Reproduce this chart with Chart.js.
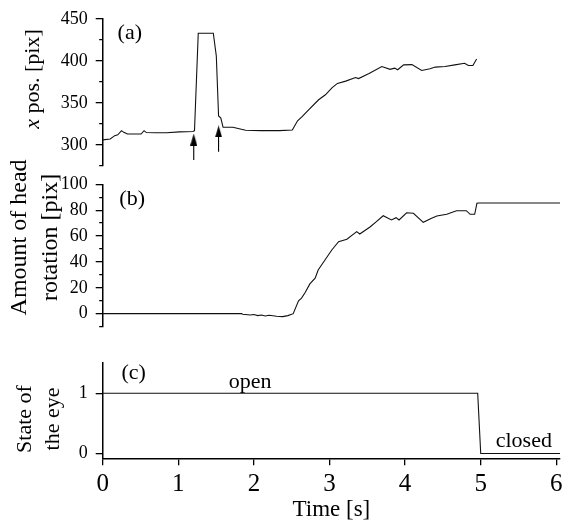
<!DOCTYPE html>
<html><head><meta charset="utf-8">
<script src="https://cdn.jsdelivr.net/npm/chart.js@4.4.1/dist/chart.umd.min.js"></script>
<style>
html,body{margin:0;padding:0;background:#fff;}
#wrap{position:relative;width:564px;height:524px;overflow:hidden;background:#fff;}
canvas{position:absolute;left:0;}
</style></head><body>
<div id="wrap">
<canvas id="ca" width="564" height="172" style="top:0px"></canvas>
<canvas id="cb" width="564" height="182" style="top:150px"></canvas>
<canvas id="cc" width="564" height="192" style="top:332px"></canvas>
</div>
<script>
// ---- data: panel (a) x position [pix] ----
const timeA = [0.00,0.10,0.16,0.20,0.25,0.28,0.33,0.45,0.51,0.55,0.58,0.70,0.85,1.02,1.20,1.22,1.27,1.47,1.51,1.54,1.57,1.60,1.73,1.80,1.90,2.10,2.35,2.52,2.59,2.65,2.74,2.87,2.96,3.05,3.12,3.23,3.36,3.40,3.54,3.71,3.82,3.88,3.92,4.00,4.11,4.24,4.35,4.42,4.55,4.68,4.81,4.86,4.92,4.97];
const posA  = [306,307,311,312,317,315,313,313,313,317,314.7,314.5,314.5,315.5,316,317,433,433,406,334.5,332,321,321,319.5,317.5,317,317,317.8,328.7,333.7,342,353.8,359.7,368.2,373.3,376,380.2,379,385,393.4,390,391.5,389.5,395.3,395.7,388.7,390.7,392.7,393.4,395.3,397.3,394.6,394.6,402.3];
// ---- data: panel (b) amount of head rotation [pix] ----
const timeB = [0,1.84,1.85,1.95,2.00,2.05,2.10,2.15,2.20,2.30,2.38,2.45,2.52,2.59,2.63,2.68,2.74,2.81,2.85,2.94,3.03,3.12,3.23,3.36,3.40,3.54,3.62,3.71,3.82,3.88,3.92,4.02,4.11,4.24,4.35,4.42,4.55,4.68,4.81,4.86,4.92,4.95,4.97,6.05];
const rotB  = [0,0,-0.5,-1,-0.7,-1.5,-1,-1.8,-1.2,-2,-2.3,-1.5,0,10,12,16.5,23,27.4,33.8,41.5,49.2,55.6,57.5,63.4,61.6,67.2,71.1,75.7,72.4,74.2,72.4,78,77.6,70.6,73.7,75.5,76.8,79.6,79.6,76.8,76.8,85.3,85.5,85.5];
// ---- data: panel (c) state of the eye ----
const timeC = [0,4.96,5.00,6.05];
const eyeC  = [1,1,0,0];
// ---- arrows in panel (a) ----
const arrowTime = [1.21, 1.54];
const arrowTail = [282, 292];
const arrowHead = [306.4, 316];
// ---- tick labels ----
const xTicks = [0,1,2,3,4,5,6];
const yTicksA = [300,350,400,450];
const yTicksB = [0,20,40,60,80,100];
const yTicksC = [0,1];

const F = '"Liberation Serif", "Times New Roman", serif';
const BLACK = '#000';
const X0 = 0, X1 = 6.05;
const AXW = 102.7;

function pts(xs, ys){ return xs.map((x,i)=>({x:x, y:ys[i]})); }

function notesPlugin(notes){
  return {id:'notes', afterDatasetsDraw(chart){
    const ctx = chart.ctx, sx = chart.scales.x, sy = chart.scales.y;
    ctx.save();
    ctx.fillStyle = BLACK;
    notes.forEach(n=>{
      ctx.font = n.size + 'px ' + F;
      ctx.textAlign = 'center';
      ctx.textBaseline = n.base || 'middle';
      ctx.fillText(n.text, sx.getPixelForValue(n.x), sy.getPixelForValue(n.y));
    });
    ctx.restore();
  }};
}

// y-axis title of panel (a) with an italic "x", drawn rotated beside the axis
const titleAPlugin = {id:'titleA', afterDraw(chart){
  const ctx = chart.ctx;
  const fI = 'italic 22px ' + F, fN = '22px ' + F;
  const t1 = 'x', t2 = ' pos. [pix]';
  ctx.save();
  ctx.font = fI; const w1 = ctx.measureText(t1).width;
  ctx.font = fN; const w2 = ctx.measureText(t2).width;
  ctx.translate(39, 79);
  ctx.rotate(-Math.PI/2);
  ctx.fillStyle = BLACK;
  ctx.textBaseline = 'alphabetic';
  ctx.textAlign = 'left';
  const x0 = -(w1 + w2)/2;
  ctx.font = fI; ctx.fillText(t1, x0, 0);
  ctx.font = fN; ctx.fillText(t2, x0 + w1, 0);
  ctx.restore();
}};

function yAxis(min, max, step, labelSet, title, titleOpts){
  return {
    type:'linear', min:min, max:max, position:'left',
    ticks:{stepSize:step, autoSkip:false, color:BLACK, padding:8,
      font:{family:F, size:18},
      callback:(v)=> labelSet.includes(v) ? String(v) : ''},
    grid:{drawOnChartArea:false, drawTicks:true, tickLength:7, color:BLACK, lineWidth:1.3,
      tickBorderDash:(c)=> (c.tick && !labelSet.includes(c.tick.value)) ? [0,3.5,20,0] : []},
    border:{display:true, color:BLACK, width:1.5},
    title:Object.assign({display:!!title, text:title || '', color:BLACK}, titleOpts),
    afterFit:(s)=>{ s.width = AXW; s.paddingTop = 0; s.paddingBottom = 0; }
  };
}

const hiddenX = {type:'linear', min:X0, max:X1, display:false};

const lineDs = (data)=>({data:data, borderColor:'#111', borderWidth:1.1, pointRadius:0, tension:0, fill:false});

// arrowhead image
const head = document.createElement('canvas');
head.width = 7; head.height = 12;
(function(){const c=head.getContext('2d'); c.fillStyle='#000'; c.beginPath(); c.moveTo(3.5,0); c.lineTo(7,12); c.lineTo(0,12); c.closePath(); c.fill();})();

function arrowDs(i){
  return {data:[{x:arrowTime[i], y:arrowTail[i]},{x:arrowTime[i], y:arrowHead[i]}],
    borderColor:'#000', borderWidth:1.1, pointRadius:[0,5], pointHoverRadius:0,
    pointStyle:head, tension:0, fill:false};
}

const common = {responsive:false, animation:false, events:[],
  plugins:{legend:{display:false}, tooltip:{enabled:false}}};

// Panel (a)
new Chart(document.getElementById('ca'), {
  type:'line',
  data:{datasets:[lineDs(pts(timeA,posA)), arrowDs(0), arrowDs(1)]},
  options:Object.assign({}, common, {
    layout:{padding:{top:19, bottom:2.5, left:0, right:3.9}},
    scales:{
      x:hiddenX,
      y:yAxis(275,450,25,yTicksA,null,{})
    }
  }),
  plugins:[notesPlugin([{text:'(a)', x:0.36, y:433.1, size:22}]), titleAPlugin]
});

// Panel (b)
new Chart(document.getElementById('cb'), {
  type:'line',
  data:{datasets:[lineDs(pts(timeB,rotB))]},
  options:Object.assign({}, common, {
    layout:{padding:{top:34.3, bottom:5.4, left:0, right:3.9}},
    scales:{
      x:hiddenX,
      y:yAxis(-10,100,10,yTicksB,['      Amount of head','      rotation [pix]'],
        {font:{family:F, size:24, lineHeight:1.3}, padding:{top:4, bottom:0}})
    }
  }),
  plugins:[notesPlugin([{text:'(b)', x:0.39, y:88.3, size:22}])]
});

// Panel (c)
const yC = yAxis(-0.08,1.5,1,yTicksC,['State of   ','the eye   '],
  {font:{family:F, size:22, lineHeight:1.27}, padding:{top:11, bottom:0}});
yC.afterBuildTicks = (s)=>{ s.ticks = yTicksC.map(v=>({value:v})); };
new Chart(document.getElementById('cc'), {
  type:'line',
  data:{datasets:[lineDs(pts(timeC,eyeC))]},
  options:Object.assign({}, common, {
    layout:{padding:{top:31.2, bottom:0, left:0, right:3.9}},
    scales:{
      x:{type:'linear', min:X0, max:X1, position:'bottom',
        afterBuildTicks:(s)=>{ s.ticks = xTicks.map(v=>({value:v})); },
        ticks:{autoSkip:false, maxRotation:0, color:BLACK, padding:4,
          font:{family:F, size:25}},
        grid:{drawOnChartArea:false, drawTicks:true, tickLength:7, color:BLACK, lineWidth:1.3},
        border:{display:true, color:BLACK, width:1.5},
        title:{display:true, text:'Time [s]', color:BLACK, font:{family:F, size:23, lineHeight:1.2}, padding:{top:0, bottom:0}},
        afterFit:(s)=>{ s.height = 65.7; s.paddingLeft = 0; s.paddingRight = 0; }
      },
      y:yC
    }
  }),
  plugins:[notesPlugin([
    {text:'(c)', x:0.41, y:1.33, size:22},
    {text:'open', x:1.95, y:1.088, size:22, base:'alphabetic'},
    {text:'closed', x:5.57, y:0.116, size:22, base:'alphabetic'}
  ])]
});
</script>
</body></html>
